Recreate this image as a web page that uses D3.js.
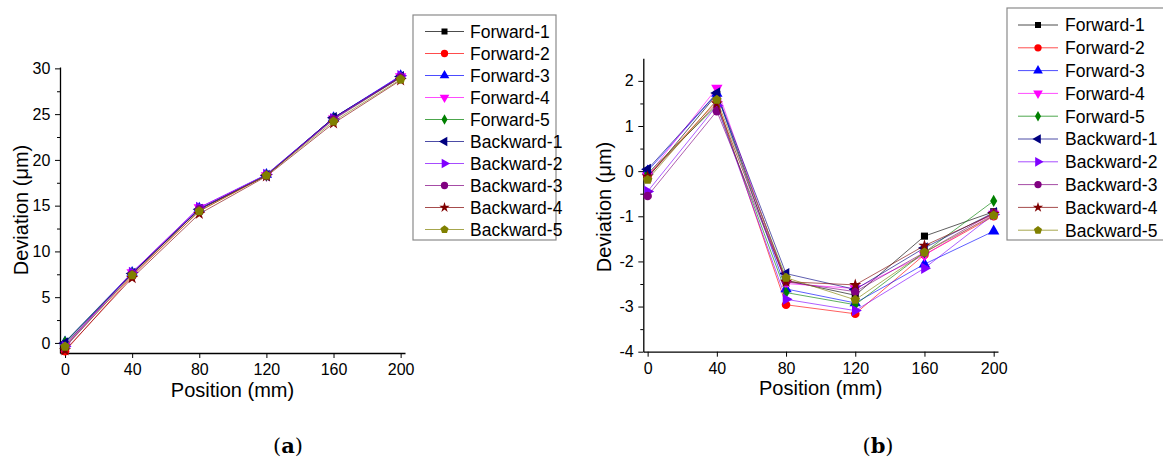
<!DOCTYPE html>
<html>
<head>
<meta charset="utf-8">
<script src="https://cdn.jsdelivr.net/npm/d3@7"></script>
<style>
    body { margin: 0; background: #fff; }
    svg { display: block; font-family: "Liberation Sans", Arial, sans-serif; }
</style>
</head>
<body>
<div id="chart"></div>
<script>
// chart values
var positions = [0, 40, 80, 120, 160, 200];
var xTicks = [0, 40, 80, 120, 160, 200];
var yTicksA = [0, 5, 10, 15, 20, 25, 30];
var yTicksB = [-4, -3, -2, -1, 0, 1, 2];

var seriesNames = ["Forward-1", "Forward-2", "Forward-3", "Forward-4", "Forward-5",
    "Backward-1", "Backward-2", "Backward-3", "Backward-4", "Backward-5"];
var seriesColors = ["#000000", "#ff0000", "#0000ff", "#ff00ff", "#008000",
    "#000080", "#8000ff", "#800080", "#800000", "#808000"];
var seriesMarkers = ["square", "circle", "triangleUp", "triangleDown", "diamond",
    "triangleLeft", "triangleRight", "circle", "star", "pentagon"];

// panel (a): deviation (um) per series at each position
var deviationA = [
    [-0.2, 7.6, 14.6, 18.3, 24.6, 29.1],
    [-0.9, 7.3, 14.4, 18.3, 24.6, 29.0],
    [0.1, 7.7, 14.7, 18.4, 24.6, 29.2],
    [-0.3, 7.7, 14.8, 18.3, 24.5, 29.1],
    [0.1, 7.6, 14.6, 18.3, 24.5, 29.0],
    [0.0, 7.6, 14.6, 18.3, 24.6, 29.1],
    [-0.4, 7.7, 14.8, 18.4, 24.5, 29.2],
    [-0.5, 7.5, 14.6, 18.3, 24.4, 29.0],
    [-0.8, 7.1, 14.1, 18.2, 24.0, 28.7],
    [-0.4, 7.4, 14.4, 18.3, 24.2, 28.8]
];

// panel (b)
var deviationB = [
    [-0.15, 1.70, -2.42, -2.75, -1.44, -0.90],
    [-0.10, 1.55, -2.96, -3.16, -1.85, -1.00],
    [0.00, 1.72, -2.61, -2.92, -2.06, -1.33],
    [-0.10, 1.84, -2.49, -2.60, -1.86, -0.95],
    [-0.05, 1.45, -2.69, -2.96, -1.80, -0.66],
    [0.04, 1.73, -2.27, -2.62, -1.70, -0.92],
    [-0.45, 1.45, -2.84, -3.09, -2.15, -0.96],
    [-0.55, 1.33, -2.45, -2.67, -1.80, -0.92],
    [-0.12, 1.50, -2.45, -2.52, -1.65, -0.95],
    [-0.19, 1.58, -2.36, -2.85, -1.80, -0.98]
];

var width = 1163, height = 461;

var svg = d3.select("#chart")
    .append("svg")
    .attr("width", width)
    .attr("height", height);

function markerPath(type) {
    if (type === "pentagon") {
        var r = 5, pts = [];
        for (var i = 0; i < 5; i++) {
            var a = -Math.PI / 2 + i * 2 * Math.PI / 5;
            pts.push([r * Math.cos(a), r * Math.sin(a)]);
        }
        return "M" + pts.join("L") + "Z";
    }
    var sym = {
        square: d3.symbolSquare,
        circle: d3.symbolCircle,
        triangleUp: d3.symbolTriangle,
        triangleDown: d3.symbolTriangle,
        triangleLeft: d3.symbolTriangle,
        triangleRight: d3.symbolTriangle,
        diamond: d3.symbolDiamond,
        star: d3.symbolStar
    }[type];
    var size = { square: 50, circle: 58, diamond: 44, star: 46 }[type] || 56;
    return d3.symbol().type(sym).size(size)();
}

function markerRotate(type) {
    if (type === "triangleDown") return 180;
    if (type === "triangleLeft") return -90;
    if (type === "triangleRight") return 90;
    return 0;
}

// plain hyphen for negatives, like the original
function tickText(d) {
    return d < 0 ? "-" + Math.abs(d) : String(d);
}

function drawPanel(opts) {
    var x = d3.scaleLinear().domain(opts.xDomain).range(opts.xRange);
    var y = d3.scaleLinear().domain(opts.yDomain).range(opts.yRange);

    var g = svg.append("g");

    // x axis
    g.append("g")
        .attr("transform", "translate(0," + opts.yRange[0] + ")")
        .call(d3.axisBottom(x).tickValues(xTicks).tickSize(5).tickSizeOuter(0).tickFormat(tickText))
        .call(function (a) {
            a.select(".domain").attr("stroke-width", 1.3);
            a.selectAll("text").attr("font-size", 16).attr("fill", "#000").attr("dy", "0.9em");
        });

    // y minor ticks
    g.append("g")
        .attr("transform", "translate(" + opts.xRange[0] + ",0)")
        .call(d3.axisLeft(y).tickValues(opts.yMinor).tickSize(3).tickFormat("").tickSizeOuter(0))
        .call(function (a) { a.select(".domain").remove(); });

    // y axis
    g.append("g")
        .attr("transform", "translate(" + opts.xRange[0] + ",0)")
        .call(d3.axisLeft(y).tickValues(opts.yTicks).tickSize(5).tickSizeOuter(0).tickFormat(tickText))
        .call(function (a) {
            a.select(".domain").attr("stroke-width", 1.3);
            a.selectAll("text").attr("font-size", 16).attr("fill", "#000").attr("dx", "-0.1em");
        });

    var line = d3.line()
        .x(function (d, i) { return x(positions[i]); })
        .y(function (d) { return y(d); });

    opts.data.forEach(function (vals, s) {
        g.append("path")
            .datum(vals)
            .attr("d", line)
            .attr("fill", "none")
            .attr("stroke", seriesColors[s])
            .attr("stroke-opacity", 0.7)
            .attr("stroke-width", 0.9);

        g.selectAll(".m" + s)
            .data(vals)
            .enter()
            .append("path")
            .attr("class", "m" + s)
            .attr("d", markerPath(seriesMarkers[s]))
            .attr("transform", function (d, i) {
                return "translate(" + x(positions[i]) + "," + y(d) + ") rotate(" + markerRotate(seriesMarkers[s]) + ")";
            })
            .attr("fill", seriesColors[s]);
    });

    // axis titles
    g.append("text")
        .attr("x", (opts.xRange[0] + opts.xRange[1]) / 2)
        .attr("y", opts.xTitleY)
        .attr("text-anchor", "middle")
        .attr("font-size", 20)
        .text("Position (mm)");

    g.append("text")
        .attr("transform", "translate(" + opts.yTitleX + "," + opts.yTitleY + ") rotate(-90)")
        .attr("text-anchor", "middle")
        .attr("font-size", 20)
        .text("Deviation (\u03bcm)");

    // caption
    g.append("text")
        .attr("x", opts.captionX)
        .attr("y", 453)
        .attr("text-anchor", "middle")
        .attr("font-family", "\"DejaVu Serif\", serif")
        .attr("font-size", 21)
        .html("(<tspan font-weight='bold'>" + opts.caption + "</tspan>)");

    // legend
    var lg = svg.append("g");
    lg.append("rect")
        .attr("x", opts.legend.x)
        .attr("y", opts.legend.y)
        .attr("width", opts.legend.w)
        .attr("height", opts.legend.h)
        .attr("fill", "#fff")
        .attr("stroke", "#8a8a8a")
        .attr("stroke-width", 1.2);

    seriesNames.forEach(function (name, s) {
        var ry = opts.legend.row0 + s * opts.legend.step;
        lg.append("line")
            .attr("x1", opts.legend.lx1)
            .attr("x2", opts.legend.lx2)
            .attr("y1", ry)
            .attr("y2", ry)
            .attr("stroke", seriesColors[s])
            .attr("stroke-opacity", 0.7)
            .attr("stroke-width", 1);
        lg.append("path")
            .attr("d", markerPath(seriesMarkers[s]))
            .attr("transform", "translate(" + ((opts.legend.lx1 + opts.legend.lx2) / 2) + "," + ry + ") rotate(" + markerRotate(seriesMarkers[s]) + ") scale(0.85)")
            .attr("fill", seriesColors[s]);
        lg.append("text")
            .attr("x", opts.legend.tx)
            .attr("y", ry)
            .attr("dy", "0.36em")
            .attr("font-size", 17.5)
            .text(name);
    });
}

drawPanel({
    data: deviationA,
    xDomain: [-3, 202.6], xRange: [60, 405],
    yDomain: [-1.1, 30.15], yRange: [353, 67],
    yTicks: yTicksA,
    yMinor: [2.5, 7.5, 12.5, 17.5, 22.5, 27.5],
    xTitleY: 397, yTitleX: 28, yTitleY: 210,
    caption: "a", captionX: 288,
    legend: { x: 413, y: 15, w: 143, h: 225, row0: 31.5, step: 22, lx1: 425, lx2: 464, tx: 470 }
});

drawPanel({
    data: deviationB,
    xDomain: [-2.5, 202.5], xRange: [643.3, 998],
    yDomain: [-4, 2.5], yRange: [351.7, 58.3],
    yTicks: yTicksB,
    yMinor: [-3.5, -2.5, -1.5, -0.5, 0.5, 1.5],
    xTitleY: 395, yTitleX: 611, yTitleY: 207,
    caption: "b", captionX: 878,
    legend: { x: 1007, y: 8, w: 170, h: 232, row0: 25, step: 22.8, lx1: 1018, lx2: 1058, tx: 1065 }
});
</script>
</body>
</html>
